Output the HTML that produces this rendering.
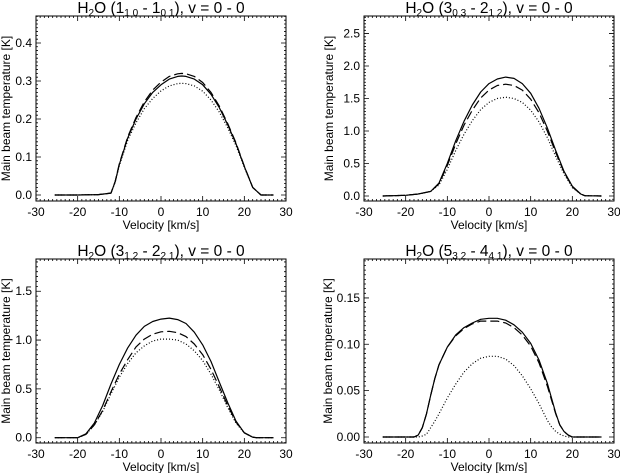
<!DOCTYPE html>
<html><head><meta charset="utf-8"><style>
html,body{margin:0;padding:0;background:#fff;}
svg{display:block;font-family:"Liberation Sans",sans-serif;}
</style></head><body>
<svg id="chart" width="620" height="473" viewBox="0 0 620 473" xmlns="http://www.w3.org/2000/svg"></svg>
<script>
// Panel 1 data: H2O (1_10 - 1_01)
const p1Vel = [-25.5,-20,-15,-12,-11,-10,-8,-6,-4,-2,0,2,4,5,6,8,10,12,14,16,18,20,22,23,24,27];
const p1Solid = [0,0,0.001,0.005,0.035,0.08,0.15,0.2,0.24,0.27,0.29,0.305,0.312,0.313,0.312,0.305,0.29,0.265,0.23,0.185,0.135,0.075,0.02,0.01,0,0];
const p1Dashed = [0,0,0.001,0.005,0.036,0.082,0.153,0.204,0.245,0.276,0.297,0.312,0.319,0.32,0.319,0.312,0.296,0.27,0.234,0.188,0.137,0.076,0.02,0.01,0,0];
const p1Dotted = [0,0,0.001,0.005,0.034,0.077,0.144,0.19,0.227,0.254,0.274,0.287,0.293,0.294,0.293,0.287,0.273,0.25,0.218,0.177,0.13,0.073,0.02,0.01,0,0];
const p1Ticks = [0,0.1,0.2,0.3,0.4];
const p1TickLabels = ["0.0","0.1","0.2","0.3","0.4"];
// Panel 2 data: H2O (3_03 - 2_12)
const p2Vel = [-25.5,-20,-17,-14,-12,-10,-8,-6,-4,-2,0,2,4,6,8,10,12,14,16,18,20,22,23,27];
const p2Solid = [0,0.01,0.03,0.07,0.2,0.5,0.85,1.15,1.4,1.6,1.73,1.8,1.83,1.81,1.73,1.58,1.35,1.05,0.7,0.38,0.15,0.03,0.005,0];
const p2Dashed = [0,0.01,0.03,0.07,0.19,0.47,0.8,1.09,1.32,1.51,1.63,1.7,1.72,1.7,1.63,1.49,1.28,1.0,0.67,0.37,0.14,0.03,0.005,0];
const p2Dotted = [0,0.01,0.03,0.07,0.17,0.41,0.7,0.95,1.16,1.33,1.44,1.5,1.52,1.5,1.44,1.32,1.14,0.9,0.61,0.34,0.13,0.03,0.005,0];
const p2Ticks = [0,0.5,1,1.5,2,2.5];
const p2TickLabels = ["0.0","0.5","1.0","1.5","2.0","2.5"];
// Panel 3 data: H2O (3_12 - 2_21)
const p3Vel = [-25.5,-20,-18,-16,-14,-12,-10,-8,-6,-4,-2,0,2,4,6,8,10,12,14,16,18,20,22,23,27];
const p3Solid = [0,0,0.04,0.15,0.33,0.55,0.75,0.92,1.05,1.14,1.19,1.215,1.225,1.21,1.17,1.08,0.95,0.78,0.57,0.36,0.17,0.05,0.005,0,0];
const p3Dashed = [0,0,0.035,0.13,0.28,0.47,0.65,0.8,0.93,1.01,1.06,1.085,1.09,1.075,1.035,0.96,0.85,0.7,0.52,0.33,0.16,0.05,0.005,0,0];
const p3Dotted = [0,0,0.035,0.13,0.27,0.45,0.62,0.76,0.87,0.94,0.99,1.01,1.01,1.0,0.96,0.89,0.79,0.65,0.49,0.31,0.15,0.05,0.005,0,0];
const p3Ticks = [0,0.5,1,1.5];
const p3TickLabels = ["0.0","0.5","1.0","1.5"];
// Panel 4 data: H2O (5_32 - 4_41)
const p4Vel = [-25.5,-18,-17,-16,-15,-14,-13,-12,-10,-8,-6,-4,-2,0,2,4,6,8,10,12,14,15,16,17,18,19,20,27];
const p4Solid = [0,0,0.002,0.01,0.025,0.045,0.063,0.078,0.097,0.11,0.118,0.123,0.127,0.128,0.128,0.126,0.121,0.113,0.101,0.083,0.058,0.042,0.026,0.013,0.006,0.002,0,0];
const p4Dashed = [0,0,0.002,0.01,0.025,0.045,0.063,0.078,0.097,0.109,0.117,0.122,0.125,0.125,0.125,0.123,0.118,0.11,0.098,0.08,0.055,0.04,0.025,0.013,0.006,0.002,0,0];
const p4Dotted = [0,0,0,0.001,0.003,0.01,0.017,0.025,0.042,0.057,0.07,0.079,0.085,0.087,0.087,0.084,0.077,0.066,0.052,0.036,0.018,0.011,0.006,0.003,0.001,0,0,0];
const p4Ticks = [0,0.05,0.1,0.15];
const p4TickLabels = ["0.00","0.05","0.10","0.15"];
const xTicks = [-30,-20,-10,0,10,20,30];
const xTickLabels = ["-30","-20","-10","0","10","20","30"];

const NS = "http://www.w3.org/2000/svg";
const svg = document.getElementById('chart');
function mk(tag, attrs, parent){const e=document.createElementNS(NS,tag);for(const k in attrs)e.setAttribute(k,attrs[k]);(parent||svg).appendChild(e);return e;}

const panels = [
 {name:'panel-1',box:[36,286,16,201],y:[-0.0158,0.471],minor:0.01,yt:26,vel:p1Vel,s:p1Solid,d:p1Dashed,o:p1Dotted,ticks:p1Ticks,labels:p1TickLabels,t:['1','1 0','1','0 1']},
 {name:'panel-2',box:[364,614,16,201],y:[-0.077,2.77],minor:0.05,yt:31,vel:p2Vel,s:p2Solid,d:p2Dashed,o:p2Dotted,ticks:p2Ticks,labels:p2TickLabels,t:['3','0 3','2','1 2']},
 {name:'panel-3',box:[36,286,259,443],y:[-0.054,1.83],minor:0.05,yt:26,vel:p3Vel,s:p3Solid,d:p3Dashed,o:p3Dotted,ticks:p3Ticks,labels:p3TickLabels,t:['3','1 2','2','2 1']},
 {name:'panel-4',box:[364,614,259,443],y:[-0.0065,0.192],minor:0.005,yt:32,vel:p4Vel,s:p4Solid,d:p4Dashed,o:p4Dotted,ticks:p4Ticks,labels:p4TickLabels,t:['5','3 2','4','4 1']}
];

panels.forEach(p=>{
  const [x0,x1,y0,y1]=p.box;
  const g=mk('g',{});
  
  
  const X=v=>x0+(v+30)/60*(x1-x0);
  const Y=v=>y1-(v-p.y[0])/(p.y[1]-p.y[0])*(y1-y0);
  const frame=mk('rect',{x:x0,y:y0,width:x1-x0,height:y1-y0,fill:'none',stroke:'#000','stroke-width':1},g);
  
  
  let tp='';
  for(let v=-30;v<=30;v++){const L=(v%10===0)?5:2;const x=X(v);tp+=`M${x},${y1}v${-L}M${x},${y0}v${L}`;}
  const step=p.ticks[1]-p.ticks[0];
  const ymin=Math.ceil(p.y[0]/p.minor), ymax=Math.floor(p.y[1]/p.minor);
  for(let i=ymin;i<=ymax;i++){const v=i*p.minor;const maj=Math.abs(Math.round(v/step)*step-v)<1e-9;const L=maj?5:2;const y=Y(v);tp+=`M${x0},${y}h${L}M${x1},${y}h${-L}`;}
  const tk=mk('path',{d:tp,stroke:'#000','stroke-width':0.8,fill:'none'},g);
  
  
  xTicks.forEach((v,i)=>{const t=mk('text',{x:X(v),y:y1+15,'text-anchor':'middle','font-size':12},g);t.textContent=xTickLabels[i];
    
    });
  p.ticks.forEach((v,i)=>{const t=mk('text',{x:x0-4,y:Y(v)+4,'text-anchor':'end','font-size':12},g);t.textContent=p.labels[i];
    
    });
  const xl=mk('text',{x:(x0+x1)/2,y:y1+28,'text-anchor':'middle','font-size':12},g);xl.textContent='Velocity [km/s]';
  
  
  const yl=mk('text',{x:0,y:0,'text-anchor':'middle','font-size':12,transform:`translate(${x0-p.yt},${(y0+y1)/2}) rotate(-90)`},g);yl.textContent='Main beam temperature [K]';
  
  
  const ti=mk('text',{x:(x0+x1)/2,y:y0-3,'text-anchor':'middle','font-size':15.5},g);
  ti.innerHTML=`H<tspan font-size="10" dy="3">2</tspan><tspan dy="-3">O (${p.t[0]}</tspan><tspan font-size="10" dy="3">${p.t[1]}</tspan><tspan dy="-3"> - ${p.t[2]}</tspan><tspan font-size="10" dy="3">${p.t[3]}</tspan><tspan dy="-3">), v = 0 - 0</tspan>`;
  
  
  const series=[[p.s,'none','solid'],[p.d,'9,4','dashed'],[p.o,'1,2','dotted']];
  series.forEach(([arr,dash,nm])=>{
    const pts=p.vel.map((v,i)=>`${X(v).toFixed(1)},${Y(arr[i]).toFixed(1)}`).join(' ');
    const pl=mk('polyline',{points:pts,fill:'none',stroke:'#000','stroke-width':1.2,'stroke-dasharray':dash,'stroke-linejoin':'round'},g);
    
    
  });
});
</script>
</body></html>
